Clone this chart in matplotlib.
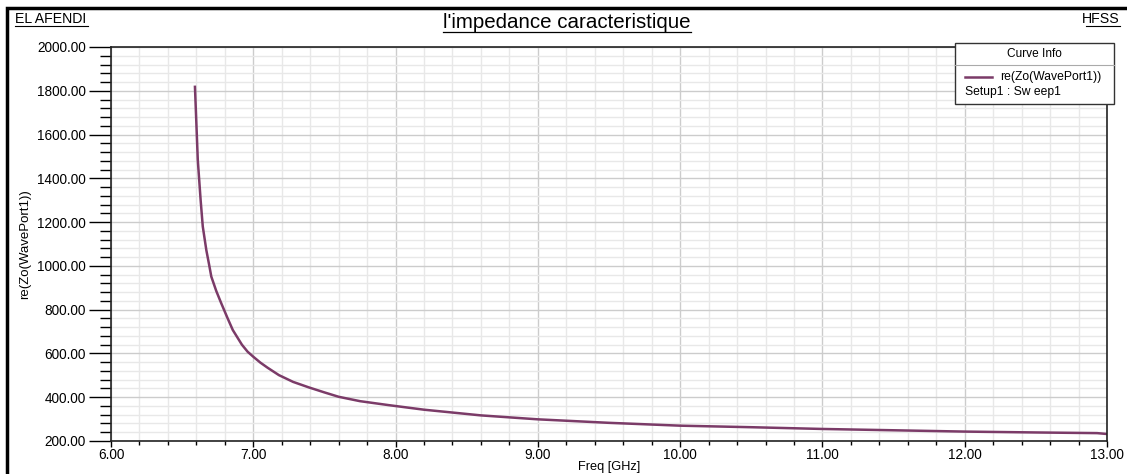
import numpy as np
import matplotlib
matplotlib.use("Agg")
from matplotlib import pyplot as plt
from matplotlib.patches import Rectangle
from matplotlib.lines import Line2D
from matplotlib.ticker import MultipleLocator, FormatStrFormatter

freq_ghz = [6.59, 6.61, 6.63, 6.645, 6.67, 6.69, 6.705, 6.74, 6.775, 6.82, 6.856,
            6.92, 6.96, 7.0, 7.05, 7.1, 7.18, 7.28, 7.39, 7.5, 7.6, 7.75, 7.95,
            8.2, 8.6, 9.0, 9.5, 10.0, 10.5, 11.0, 11.5, 12.0, 12.5, 12.93, 13.0]
re_zo = [1818, 1483, 1300, 1180, 1072, 1004, 951, 885, 829, 760, 707,
         640, 608, 585, 558, 535, 501, 470, 445, 422, 402, 382, 364,
         343, 317, 299, 283, 270, 263, 255, 249, 243, 239, 236, 232]

title = "l'impedance caracteristique"
curve_name = "re(Zo(WavePort1))"
sweep_name = "Setup1 : Sw eep1"
color = '#7b3b68'

W, H = 1127, 474
fig = plt.figure(figsize=(W / 100, H / 100), dpi=100)
plt.rcParams['font.family'] = ['Liberation Sans', 'DejaVu Sans']

ax = fig.add_axes([111 / W, 1 - 441 / H, (1107 - 111) / W, (441 - 47) / H])
ax.plot(freq_ghz, re_zo, color=color, lw=1.8)
ax.set_xlim(6, 13)
ax.set_ylim(200, 2000)

ax.xaxis.set_major_locator(MultipleLocator(1))
ax.xaxis.set_minor_locator(MultipleLocator(0.2))
ax.yaxis.set_major_locator(MultipleLocator(200))
ax.yaxis.set_minor_locator(MultipleLocator(40))
ax.xaxis.set_major_formatter(FormatStrFormatter('%.2f'))
ax.yaxis.set_major_formatter(FormatStrFormatter('%.2f'))
ax.tick_params(axis='y', which='major', direction='out', length=16, width=1, labelsize=9.8, pad=2)
ax.tick_params(axis='y', which='minor', direction='out', length=8, width=1)
ax.tick_params(axis='x', which='major', direction='out', length=4, width=1, labelsize=9.8, pad=1)
ax.tick_params(axis='x', which='minor', direction='out', length=3, width=1)

ax.grid(True, which='major', color='#cccccc', lw=1)
ax.grid(True, which='minor', color='#e8e8e8', lw=1)
ax.set_axisbelow(True)
for s in ax.spines.values():
    s.set_color('#222222')
    s.set_linewidth(1.2)

ax.set_xlabel('Freq [GHz]', fontsize=9.2, labelpad=-1)
ax.set_ylabel(curve_name, fontsize=9.5, labelpad=4)

# cadre exterieur
fig.patches.append(Rectangle((7 / W, -0.1), 1.1, 1 - 8 / H + 0.1, transform=fig.transFigure,
                             fill=False, ec='black', lw=2.5))

# titres
fig.text(567 / W, 1 - 22 / H, title, ha='center', va='center', fontsize=14.8)
fig.add_artist(Line2D([443 / W, 691 / W], [1 - 32 / H, 1 - 32 / H], color='black', lw=0.9))
fig.text(15 / W, 1 - 19 / H, 'EL AFENDI', ha='left', va='center', fontsize=10.2)
fig.add_artist(Line2D([15 / W, 88 / W], [1 - 26 / H, 1 - 26 / H], color='black', lw=0.8))
fig.text(1120 / W, 1 - 19 / H, 'HFSS', ha='right', va='center', fontsize=10.2)
fig.add_artist(Line2D([1086 / W, 1120 / W], [1 - 26 / H, 1 - 26 / H], color='black', lw=0.8))

# boite Curve Info
bx0, bx1, by0, by1, bsep = 955, 1114, 43, 104, 65
fig.patches.append(Rectangle((bx0 / W, 1 - by1 / H), (bx1 - bx0) / W, (by1 - by0) / H,
                             transform=fig.transFigure, fc='white', ec='#333333', lw=1, zorder=5))
fig.add_artist(Line2D([bx0 / W, bx1 / W], [1 - bsep / H, 1 - bsep / H], color='#aaaaaa', lw=0.8, zorder=6))
fig.text((bx0 + bx1) / 2 / W, 1 - 54 / H, 'Curve Info', ha='center', va='center', fontsize=8.6, zorder=7)
fig.add_artist(Line2D([965 / W, 992 / W], [1 - 77 / H, 1 - 77 / H], color=color, lw=1.8, zorder=7))
fig.text(1000 / W, 1 - 77 / H, curve_name, ha='left', va='center', fontsize=8.7, zorder=7)
fig.text(965 / W, 1 - 92 / H, sweep_name, ha='left', va='center', fontsize=8.7, zorder=7)

fig.savefig('out.png', dpi=100)
